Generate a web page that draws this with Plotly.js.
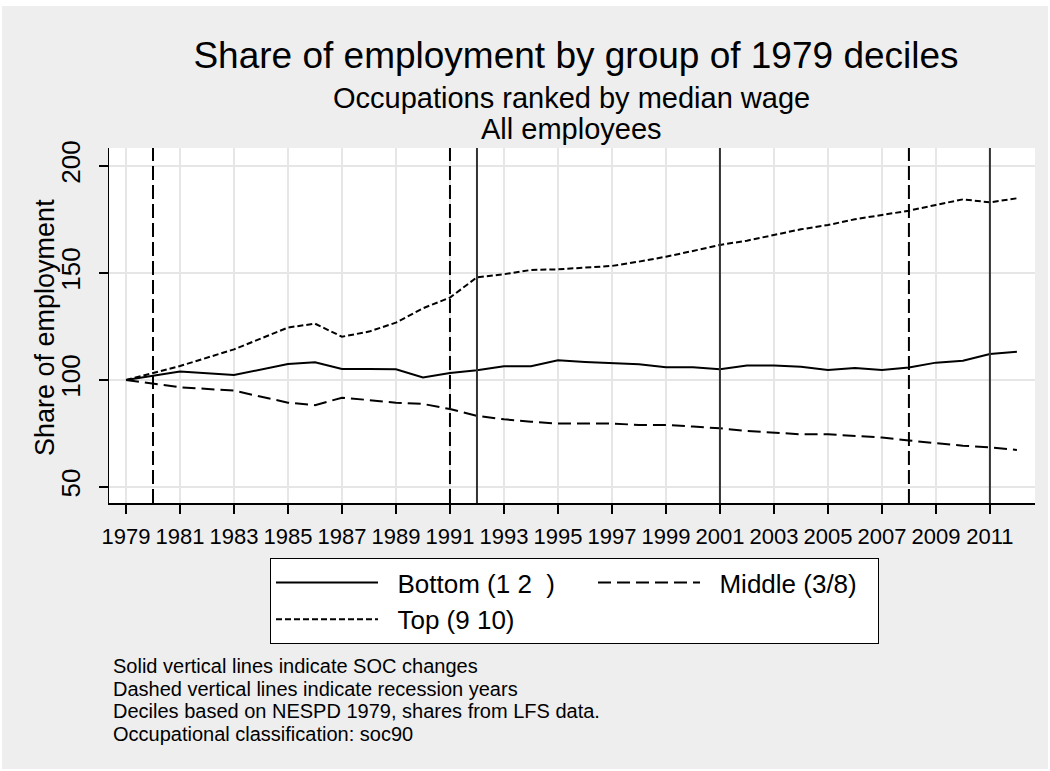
<!DOCTYPE html>
<html>
<head>
<meta charset="utf-8">
<script src="https://cdn.plot.ly/plotly-3.0.1.min.js"></script>
<style>html,body{margin:0;padding:0;background:#fff;}#chart{width:1050px;height:771px;}</style>
</head>
<body>
<div id="chart"></div>
<script>
// ---- data ----
var years = [1979,1981,1983,1985,1986,1987,1988,1989,1990,1991,1992,1993,1994,1995,1996,1997,1998,1999,2000,2001,2002,2003,2004,2005,2006,2007,2008,2009,2010,2011,2012];
var bottomShare = [100,103.9,102.3,107.5,108.3,105.1,105.1,105.0,101.2,103.2,104.5,106.4,106.4,109.2,108.4,107.8,107.3,105.9,105.9,105.0,106.7,106.7,106.2,104.7,105.6,104.7,105.8,108.1,109.0,112.1,113.2];
var middleShare = [100,96.6,95.0,89.4,88.2,91.7,90.6,89.4,88.8,86.4,83.2,81.6,80.5,79.6,79.6,79.6,79.0,79.0,78.2,77.4,76.2,75.5,74.6,74.6,73.8,73.1,71.7,70.4,69.3,68.5,67.3];
var topShare = [100,106.5,114.3,124.5,126.3,120.2,122.6,126.8,133.5,138.5,148.0,149.4,151.4,151.7,152.5,153.3,155.3,157.6,160.3,163.1,165.1,167.8,170.4,172.4,175.1,177.1,179.1,181.8,184.4,183.0,184.9];
var seriesNames = ['Bottom (1 2\u00a0\u00a0)', 'Middle (3/8)', 'Top (9 10)'];
var xTickYears = [1979,1981,1983,1985,1987,1989,1991,1993,1995,1997,1999,2001,2003,2005,2007,2009,2011];
var yTickVals = [50,100,150,200];
var socChangeYears = [1992,2001,2011];   // solid vertical lines
var recessionYears = [1980,1991,2008];   // dashed vertical lines
var titleText = 'Share of employment by group of 1979 deciles';
var subtitleLines = ['Occupations ranked by median wage','All employees'];
var yTitle = 'Share of employment';
var noteLines = [
  'Solid vertical lines indicate SOC changes',
  'Dashed vertical lines indicate recession years',
  'Deciles based on NESPD 1979, shares from LFS data.',
  'Occupational classification: soc90'
];

// ---- layout constants ----
var FONT = 'Liberation Sans, Arial, Helvetica, sans-serif';
var W = 1050, H = 771;
var L = 109, R = 15, T = 148, B = 268;
var plotH = H - T - B, plotW = W - L - R;
function py(pix){ return (H - B - pix) / plotH; }   // pixel y -> paper y
function px(pix){ return (pix - L) / plotW; }       // pixel x -> paper x
var GAP = '\u00a0\u00a0';

var traces = [
  {x: years, y: bottomShare, name: GAP + seriesNames[0], mode: 'lines', line: {color: '#000', width: 2, dash: 'solid'}},
  {x: years, y: middleShare, name: GAP + seriesNames[1], mode: 'lines', line: {color: '#000', width: 2, dash: '13px,6px'}, legendwidth: 168},
  {x: years, y: topShare, name: GAP + seriesNames[2], mode: 'lines', line: {color: '#000', width: 2, dash: '6px,3px'}}
];

var shapes = [
  {type: 'rect', xref: 'paper', yref: 'paper', layer: 'below',
   x0: px(2), x1: px(W - 2), y0: py(H - 2), y1: py(6),
   fillcolor: '#eeeeee', line: {width: 0}},
  {type: 'rect', xref: 'paper', yref: 'paper', layer: 'below',
   x0: 0, x1: 1, y0: 0, y1: 1, fillcolor: '#ffffff', line: {width: 0}}
];
socChangeYears.forEach(function(yr){
  shapes.push({type: 'line', xref: 'x', yref: 'paper', x0: yr, x1: yr, y0: 0, y1: 1,
    line: {color: '#333333', width: 2}});
});
recessionYears.forEach(function(yr){
  shapes.push({type: 'line', xref: 'x', yref: 'paper', x0: yr, x1: yr, y0: 0, y1: 1,
    line: {color: '#000000', width: 2, dash: '14px,5px'}});
});

var annotations = [];
var subY = [98.5, 128.5];
subtitleLines.forEach(function(t, i){
  annotations.push({text: t, xref: 'paper', yref: 'paper', x: px(571), y: py(subY[i]),
    xanchor: 'center', yanchor: 'middle', showarrow: false,
    font: {family: FONT, size: 29, color: '#000'}});
});
// y-axis title (placed as rotated text to match the reference spacing)
annotations.push({text: yTitle, xref: 'paper', yref: 'paper', x: px(45), y: py(328),
  xanchor: 'center', yanchor: 'middle', textangle: -90, showarrow: false,
  font: {family: FONT, size: 27, color: '#000'}});
var noteY = [666, 688.5, 711, 733.5];
noteLines.forEach(function(t, i){
  annotations.push({text: t, xref: 'paper', yref: 'paper', x: px(112), y: py(noteY[i]),
    xanchor: 'left', yanchor: 'middle', showarrow: false, align: 'left', borderpad: 0,
    font: {family: FONT, size: 20, color: '#000'}});
});

var layout = {
  width: W, height: H,
  margin: {l: L, r: R, t: T, b: B, pad: 0},
  paper_bgcolor: '#ffffff',
  plot_bgcolor: '#ffffff',
  font: {family: FONT, color: '#000'},
  title: {text: titleText, font: {family: FONT, size: 37, color: '#000'},
    x: px(576), xanchor: 'center', xref: 'paper', y: 1 - 55 / H, yref: 'container', yanchor: 'middle'},
  xaxis: {
    range: [1978.37, 2012.67], tickmode: 'array', tickvals: xTickYears, ticktext: xTickYears.map(String),
    tickangle: 0,
    ticks: 'outside', ticklen: 9, tickwidth: 1.5, tickcolor: '#000',
    showline: true, linecolor: '#000', linewidth: 1.5,
    showgrid: true, gridcolor: '#e6e6e6', gridwidth: 1.5, zeroline: false,
    tickfont: {family: FONT, size: 22, color: '#000'}, ticklabelstandoff: 4
  },
  yaxis: {
    range: [42.5, 208.4], tickmode: 'array', tickvals: yTickVals, ticktext: yTickVals.map(String),
    tickangle: -90,
    ticks: 'outside', ticklen: 9, tickwidth: 1.5, tickcolor: '#000',
    showline: true, linecolor: '#000', linewidth: 1.5,
    showgrid: true, gridcolor: '#e6e6e6', gridwidth: 1.5, zeroline: false,
    tickfont: {family: FONT, size: 26, color: '#000'}, ticklabelstandoff: 8
  },
  showlegend: true,
  legend: {
    orientation: 'h', x: px(270), y: py(558), xanchor: 'left', yanchor: 'top',
    bgcolor: '#ffffff', bordercolor: '#000', borderwidth: 1,
    font: {family: FONT, size: 26, color: '#000'},
    itemwidth: 102, entrywidth: 205, entrywidthmode: 'pixels',
    traceorder: 'normal', itemclick: false, itemdoubleclick: false
  },
  shapes: shapes,
  annotations: annotations
};

Plotly.newPlot('chart', traces, layout, {displayModeBar: false, staticPlot: true});
</script>
</body>
</html>
